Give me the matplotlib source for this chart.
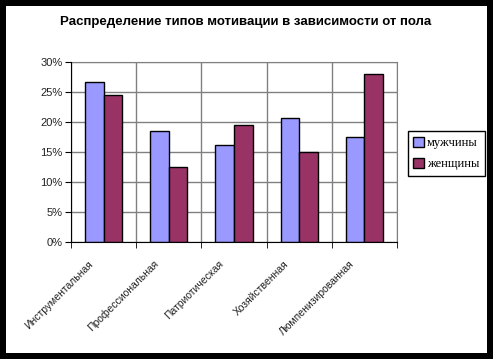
import matplotlib
matplotlib.use("Agg")
import matplotlib.pyplot as plt
import matplotlib.transforms as mtransforms
import numpy as np
from matplotlib.patches import Rectangle

categories = ["Инструментальная", "Профессиональная", "Патриотическая", "Хозяйственная", "Люмпенизированная"]
men = [26.7, 18.6, 16.3, 20.8, 17.5]
women = [24.5, 12.6, 19.6, 15.1, 28.0]
series_names = ["мужчины", "женщины"]
yticks = [0, 5, 10, 15, 20, 25, 30]

W, H = 493, 359
fig = plt.figure(figsize=(W / 100, H / 100), dpi=100)
fig.patch.set_facecolor("white")
fig.patches.append(Rectangle((0, 0), 1, 1, transform=fig.transFigure, fill=False,
                             edgecolor="black", linewidth=12 * 72 / 100, zorder=10))

ax = fig.add_axes([71 / W, 1 - 242.3 / H, (397 - 71) / W, (242.3 - 62.3) / H])
x = np.arange(len(categories))
bw = 1 / 3.5
ax.bar(x - bw / 2, men, bw, color="#9999FF", edgecolor="black", linewidth=1.0, label=series_names[0], zorder=3)
ax.bar(x + bw / 2, women, bw, color="#993366", edgecolor="black", linewidth=1.0, label=series_names[1], zorder=3)

ax.set_xlim(-0.5, len(categories) - 0.5)
ax.set_ylim(0, 30)
ax.set_yticks(yticks)
ax.set_yticklabels([f"{v}%" for v in yticks], fontsize=8, family="Liberation Sans", color="#222222")
ax.set_xticks(x)
ax.set_xticklabels(categories, rotation=45, ha="right", va="center", rotation_mode="anchor",
                   fontsize=7.5, family="Liberation Sans", color="#222222")
ax.tick_params(axis="x", length=0, pad=0)
offset = mtransforms.ScaledTranslation(-12 / 100, -20 / 100, fig.dpi_scale_trans)
for lbl in ax.get_xticklabels():
    lbl.set_transform(lbl.get_transform() + offset)
ax.set_xticks(np.arange(-0.5, len(categories), 1), minor=True)
ax.tick_params(axis="x", which="minor", length=4, direction="out", color="black")
ax.tick_params(axis="y", length=4, direction="out", color="black", pad=2)

ax.grid(True, axis="y", color="#808080", linewidth=1.0, zorder=0)
ax.grid(True, axis="x", which="minor", color="#808080", linewidth=1.0, zorder=0)
for s in ["top", "right"]:
    ax.spines[s].set_color("#808080")
for s in ["left", "bottom"]:
    ax.spines[s].set_color("black")
    ax.spines[s].set_zorder(4)

leg = fig.legend(loc="upper left", bbox_to_anchor=(407.7 / W, 1 - 131 / H),
                 prop={"family": "Liberation Serif", "size": 9},
                 frameon=True, fancybox=False, edgecolor="black", framealpha=1,
                 handlelength=0.85, handleheight=0.85, handletextpad=0.25,
                 borderpad=0.45, labelspacing=0.7, borderaxespad=0)
leg.get_frame().set_linewidth(1.0)

fig.text(246 / W, 1 - 22 / H, "Распределение типов мотивации в зависимости от пола",
         ha="center", va="center", fontsize=9.5, fontweight="bold", family="Liberation Sans")

fig.savefig("out.png", dpi=100)
